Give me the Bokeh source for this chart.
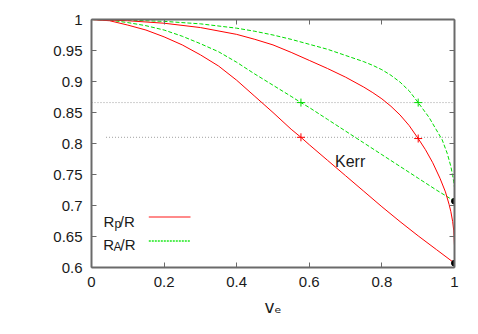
from bokeh.plotting import figure
from bokeh.models import Range1d, LinearAxis, FixedTicker, Label, CustomJSTickFormatter
from bokeh.embed import file_html
from bokeh.resources import INLINE

# ---------------- data ----------------
# Kerr curves (inner pair)
ve_kerr_p = [0.0, 0.05, 0.1, 0.15, 0.2, 0.25, 0.3, 0.35, 0.4, 0.45, 0.5, 0.55, 0.577,
             0.6, 0.65, 0.7, 0.75, 0.8, 0.85, 0.9, 0.95, 1.0]
rp_kerr = [1.000, 0.998, 0.991, 0.983, 0.972, 0.959, 0.943, 0.925, 0.902, 0.876, 0.850,
           0.823, 0.810, 0.798, 0.773, 0.748, 0.723, 0.698, 0.674, 0.651, 0.629, 0.607]
ve_kerr_a = [0.0, 0.05, 0.1, 0.15, 0.2, 0.25, 0.3, 0.35, 0.4, 0.45, 0.5, 0.55, 0.577,
             0.6, 0.65, 0.7, 0.75, 0.8, 0.85, 0.9, 0.95, 1.0]
ra_kerr = [1.000, 0.999, 0.995, 0.990, 0.983, 0.973, 0.961, 0.948, 0.931, 0.912, 0.894,
           0.876, 0.866, 0.858, 0.839, 0.820, 0.801, 0.782, 0.763, 0.744, 0.725, 0.707]
# outer pair
ve_out_p = [0.0, 0.1, 0.2, 0.3, 0.4, 0.45, 0.5, 0.55, 0.6, 0.65, 0.7, 0.75, 0.775, 0.8,
            0.825, 0.85, 0.875, 0.9, 0.92, 0.94, 0.96, 0.975, 0.985, 0.99, 0.995, 0.998, 1.0]
rp_out = [1.000, 0.998, 0.994, 0.987, 0.976, 0.968, 0.959, 0.947, 0.934, 0.921, 0.907,
          0.891, 0.882, 0.872, 0.860, 0.846, 0.829, 0.808, 0.790, 0.769, 0.744, 0.722,
          0.702, 0.690, 0.674, 0.659, 0.635]
ve_out_a = [0.0, 0.1, 0.2, 0.3, 0.4, 0.45, 0.5, 0.55, 0.6, 0.65, 0.7, 0.75, 0.775, 0.8,
            0.825, 0.85, 0.875, 0.9, 0.93, 0.95, 0.966, 0.98, 0.99, 0.995, 0.998, 1.0]
ra_out = [1.000, 0.999, 0.997, 0.993, 0.986, 0.981, 0.975, 0.968, 0.960, 0.952, 0.942,
          0.932, 0.926, 0.919, 0.910, 0.899, 0.885, 0.866, 0.842, 0.822, 0.806, 0.784,
          0.763, 0.748, 0.738, 0.729]

# reference levels (dotted horizontal lines)
ref_level = [0.866, 0.81]
ref_start = [0.0, 0.04]
ref_end = [1.0, 1.0]

# cross markers
mark_ve_p = [0.577, 0.9]
mark_rp = [0.81, 0.808]
mark_ve_a = [0.577, 0.9]
mark_ra = [0.866, 0.866]

# end dots (extreme Kerr)
dot_ve = [1.0, 1.0]
dot_r = [0.707, 0.607]

x_ticks = [0.0, 0.2, 0.4, 0.6, 0.8, 1.0]
x_tick_labels = ["0", "0.2", "0.4", "0.6", "0.8", "1"]
y_ticks = [0.6, 0.65, 0.7, 0.75, 0.8, 0.85, 0.9, 0.95, 1.0]
y_tick_labels = ["0.6", "0.65", "0.7", "0.75", "0.8", "0.85", "0.9", "0.95", "1"]
x_title = "v\u2091"

# ---------------- styling ----------------
FONT = "Liberation Sans"
RED = "#ff0000"
GREEN = "#00dd00"
AXC = "#6a6a6a"
TXT = "#1a1a1a"

p = figure(frame_width=363, frame_height=248,
           x_range=Range1d(0, 1), y_range=Range1d(0.6, 1.0),
           output_backend="svg", toolbar_location=None,
           min_border_left=91, min_border_right=20, min_border_top=19, min_border_bottom=60,
           x_axis_type=None, y_axis_type=None)
p.grid.visible = False
p.outline_line_color = None
p.background_fill_color = "white"
p.border_fill_color = "white"

def style_axis(ax, ticks, labels, show):
    ax.ticker = FixedTicker(ticks=ticks)
    if show:
        ax.major_label_overrides = {t: l for t, l in zip(ticks, labels)}
    else:
        ax.formatter = CustomJSTickFormatter(code="return ''")
    ax.axis_line_color = AXC
    ax.axis_line_width = 2
    ax.major_tick_line_color = AXC
    ax.major_tick_line_width = 1
    ax.major_tick_in = 5
    ax.major_tick_out = 0
    ax.minor_tick_line_color = None
    ax.major_label_text_font = FONT
    ax.major_label_text_font_size = "15px"
    ax.major_label_text_color = TXT

bottom = LinearAxis(axis_label=x_title)
style_axis(bottom, x_ticks, x_tick_labels, True)
bottom.major_label_standoff = 9
bottom.axis_label_text_font = "DejaVu Sans"
bottom.axis_label_text_font_size = "17px"
bottom.axis_label_text_font_style = "normal"
bottom.axis_label_text_color = TXT
bottom.axis_label_standoff = 7
left = LinearAxis()
style_axis(left, y_ticks, y_tick_labels, True)
left.major_label_standoff = 9
top = LinearAxis()
style_axis(top, x_ticks, x_tick_labels, False)
right = LinearAxis()
style_axis(right, y_ticks, y_tick_labels, False)
p.add_layout(bottom, "below")
p.add_layout(left, "left")
p.add_layout(top, "above")
p.add_layout(right, "right")

# dotted reference lines
p.segment(x0=ref_start, y0=ref_level, x1=ref_end, y1=ref_level,
          line_color="#a0a0a0", line_width=1, line_dash="1 2")

# curves
p.line(ve_out_a, ra_out, line_color=GREEN, line_width=1, line_dash="4 2")
p.line(ve_kerr_a, ra_kerr, line_color=GREEN, line_width=1, line_dash="4 2")
p.line(ve_out_p, rp_out, line_color=RED, line_width=1)
p.line(ve_kerr_p, rp_kerr, line_color=RED, line_width=1)

# markers
p.scatter(mark_ve_p, mark_rp, marker="cross", size=8, line_color=RED, line_width=1)
p.scatter(mark_ve_a, mark_ra, marker="cross", size=8, line_color=GREEN, line_width=1)
p.scatter(dot_ve, dot_r, marker="circle", size=6, fill_color="black", line_color="black")

# pixel -> data helpers for annotation placement
def dx(px):
    return (px - 91.0) / 363.0

def dy(py):
    return 1.0 - (py - 19.0) / 620.0

def txt(x, y, s, size="15px"):
    p.add_layout(Label(x=dx(x), y=dy(y), text=s, text_font=FONT, text_font_size=size,
                       text_color=TXT, text_align="left", text_baseline="alphabetic"))

# legend (manual, for subscripts)
txt(103.0, 220.5, "R")
txt(114.0, 223.0, "p", "12px")
txt(119.3, 220.5, "/R")
p.segment(x0=[dx(148.3)], y0=[dy(216.5)], x1=[dx(190.0)], y1=[dy(216.5)],
          line_color="#ff8a8a", line_width=2)
txt(102.8, 244.3, "R")
txt(113.0, 246.8, "A", "12px")
txt(120.0, 244.3, "/R")
p.segment(x0=[dx(148.3)], y0=[dy(240.5)], x1=[dx(190.0)], y1=[dy(240.5)],
          line_color="#55ee55", line_width=2, line_dash="2 1")

# curve label
txt(334.5, 160.5, "Kerr", "16px")

open("out.html", "w").write(file_html(p, INLINE))
